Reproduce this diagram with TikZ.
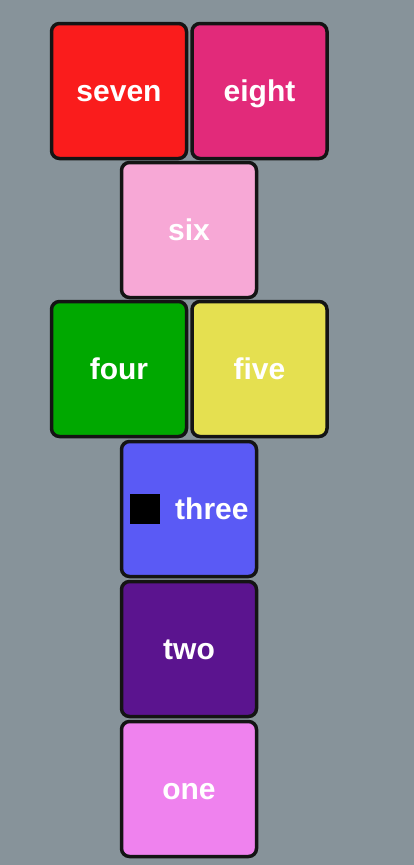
\documentclass[tikz,border=0pt]{standalone}
\usepackage{fontspec}
\setmainfont{Liberation Sans}
\usepackage{tikz}
\definecolor{bg}{HTML}{87939A}
\definecolor{edge}{HTML}{141414}
\tikzset{
  tile/.style = {draw=edge, line width=3.5pt, rounded corners=8pt,
    minimum width=135pt, minimum height=135pt, inner sep=0pt,
    text height=27pt, text depth=6pt,
    text=white, font=\fontsize{30}{34}\selectfont\bfseries}
}
\begin{document}
\begin{tikzpicture}[x=1pt, y=-1pt]
\fill[bg] (0,0) rectangle (414,865);
\useasboundingbox (0,0) rectangle (414,865);
\node[tile, fill={rgb,255:red,250;green,28;blue,28}] (seven) at (119,91) {seven};
\node[tile, fill={rgb,255:red,226;green,42;blue,122}] (eight) at (259.5,91) {eight};
\node[tile, fill={rgb,255:red,247;green,168;blue,214}] (six) at (189,230) {six};
\node[tile, fill={rgb,255:red,0;green,168;blue,0}] (four) at (119,369) {four};
\node[tile, fill={rgb,255:red,229;green,224;blue,80}] (five) at (259.5,369) {five};
\node[tile, fill={rgb,255:red,90;green,90;blue,245}] (three) at (189,509) {};
\node[tile, fill={rgb,255:red,91;green,20;blue,143}] (two) at (189,649) {two};
\node[tile, fill={rgb,255:red,239;green,130;blue,238}] (one) at (189,789) {one};
% marker and label inside three
\node[fill=black, minimum size=30pt, inner sep=0pt] (mark) at (145,509) {};
\node[text=white, font=\fontsize{30}{34}\selectfont\bfseries, inner sep=0pt,
  text height=27pt, text depth=6pt, anchor=west] (label) at (175,509) {three};
\end{tikzpicture}
\end{document}
